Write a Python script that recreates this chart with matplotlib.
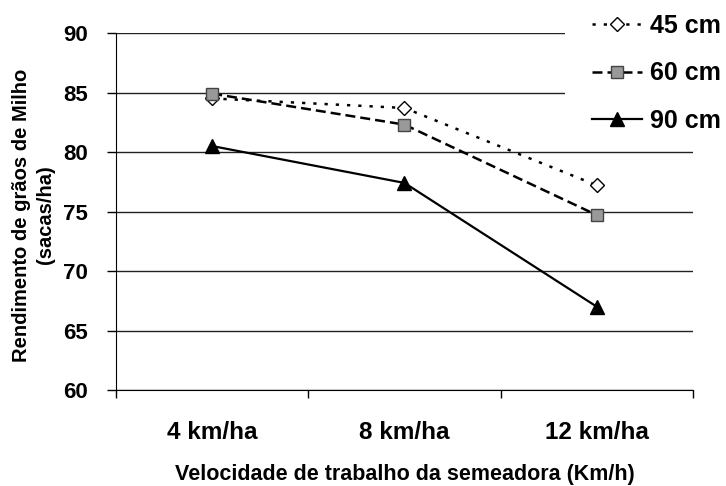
import matplotlib
matplotlib.use('Agg')
import matplotlib.pyplot as plt
from matplotlib.patches import Rectangle
import numpy as np

categories = ["4 km/ha", "8 km/ha", "12 km/ha"]
s45 = [84.5, 83.7, 77.2]
s60 = [84.9, 82.3, 74.7]
s90 = [80.5, 77.4, 67.0]
labels = ["45 cm", "60 cm", "90 cm"]

plt.rcParams['font.family'] = ['Liberation Sans', 'DejaVu Sans']
plt.rcParams['font.weight'] = 'bold'

fig = plt.figure(figsize=(7.26, 4.86), dpi=100)
ax = fig.add_axes([0.1598, 0.1975, 0.7947, 0.7346])

x = np.arange(len(categories))
ax.plot(x, s45, color='black', lw=1.8, dashes=(1.3, 3.2), marker='D', ms=7.5,
        mfc='white', mec='black', mew=1, label=labels[0], zorder=3)
ax.plot(x, s60, color='black', lw=1.8, dashes=(4, 2), marker='s', ms=8.5,
        mfc='#999999', mec='#444444', mew=1, label=labels[1], zorder=3)
ax.plot(x, s90, color='black', lw=1.6, marker='^', ms=10,
        mfc='black', mec='black', label=labels[2], zorder=3)

ax.set_xlim(-0.5, 2.5)
ax.set_ylim(60, 90)
ax.set_yticks(range(60, 91, 5))
ax.yaxis.grid(True, color='#222222', lw=1)
ax.set_axisbelow(True)
ax.set_xticks([-0.5, 0.5, 1.5, 2.5])
ax.set_xticklabels([])
ax.set_xticks(x, minor=True)
ax.set_xticklabels(categories, minor=True, fontsize=17.5, fontweight='bold')
ax.tick_params(axis='x', which='minor', length=0, pad=22)
ax.tick_params(axis='x', which='major', length=6, direction='out', width=1)
ax.tick_params(axis='y', length=6.5, direction='out', labelsize=16, pad=14, width=1)
for lab in ax.get_yticklabels():
    lab.set_fontweight('bold')
for side in ['top', 'right']:
    ax.spines[side].set_visible(False)

ax.set_xlabel("Velocidade de trabalho da semeadora (Km/h)", fontsize=15.5,
              fontweight='bold', va='top')
ax.xaxis.set_label_coords(0.5, -0.208)
ax.set_ylabel("Rendimento de grãos de Milho\n(sacas/ha)", fontsize=14.5,
              fontweight='bold', linespacing=1.3)
ax.yaxis.set_label_coords(-0.106, 0.49)

# white box behind the legend, hides the gridlines there
fig.add_artist(Rectangle((565 / 726, 0.74), 1.0, 0.3, transform=fig.transFigure,
                         facecolor='white', edgecolor='none', zorder=1))

leg = fig.legend(loc='upper left', bbox_to_anchor=(592 / 726, 0.972), frameon=False,
                 fontsize=18, handlelength=2.0, labelspacing=0.95,
                 handletextpad=0.3, borderaxespad=0, borderpad=0)
for t in leg.get_texts():
    t.set_fontweight('bold')

fig.savefig('out.png', dpi=100)
